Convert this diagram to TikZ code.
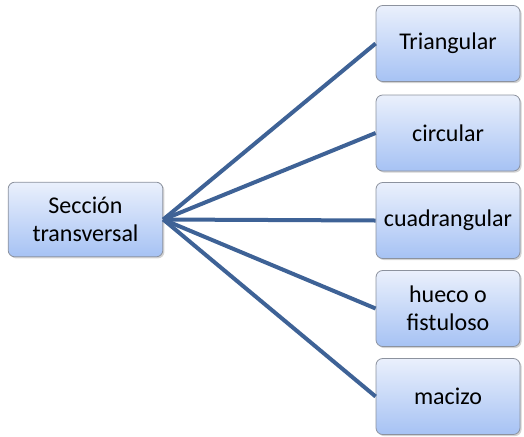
\documentclass[tikz,border=0pt]{standalone}
\usepackage{fontspec}
\setmainfont{Carlito}
\usetikzlibrary{shadows}
\definecolor{linea}{RGB}{62,98,150}
\definecolor{cajaarriba}{RGB}{234,240,252}
\definecolor{cajaabajo}{RGB}{166,194,244}
\definecolor{borde}{RGB}{140,146,158}

\begin{document}
\begin{tikzpicture}[x=0.75pt, y=-0.75pt,
    every node/.style={font=\fontsize{18}{21}\selectfont, align=center, inner sep=0pt},
    caja/.style={draw=borde, line width=0.6pt, rounded corners=5pt,
      top color=cajaarriba, bottom color=cajaabajo,
      drop shadow={shadow xshift=1.2pt, shadow yshift=-1.2pt, opacity=0.35},
      minimum width=108pt, minimum height=57pt},
    conector/.style={draw=linea, line width=3pt}]
  \useasboundingbox (0,0) rectangle (524,436);
  \node[caja, minimum width=116pt, minimum height=56pt] (sec) at (85.5,219.5) {Sección\\transversal};
  \node[caja] (tri) at (448,43.5) {Triangular};
  \node[caja] (circ) at (448,133) {circular};
  \node[caja] (cuad) at (448,220.5) {cuadrangular};
  \node[caja] (hueco) at (448,308.5) {hueco o\\fistuloso};
  \node[caja] (maci) at (448,396.5) {macizo};
  \draw[conector] (sec.east) -- (tri.west);
  \draw[conector] (sec.east) -- (circ.west);
  \draw[conector] (sec.east) -- (cuad.west);
  \draw[conector] (sec.east) -- (hueco.west);
  \draw[conector] (sec.east) -- (maci.west);
\end{tikzpicture}
\end{document}
